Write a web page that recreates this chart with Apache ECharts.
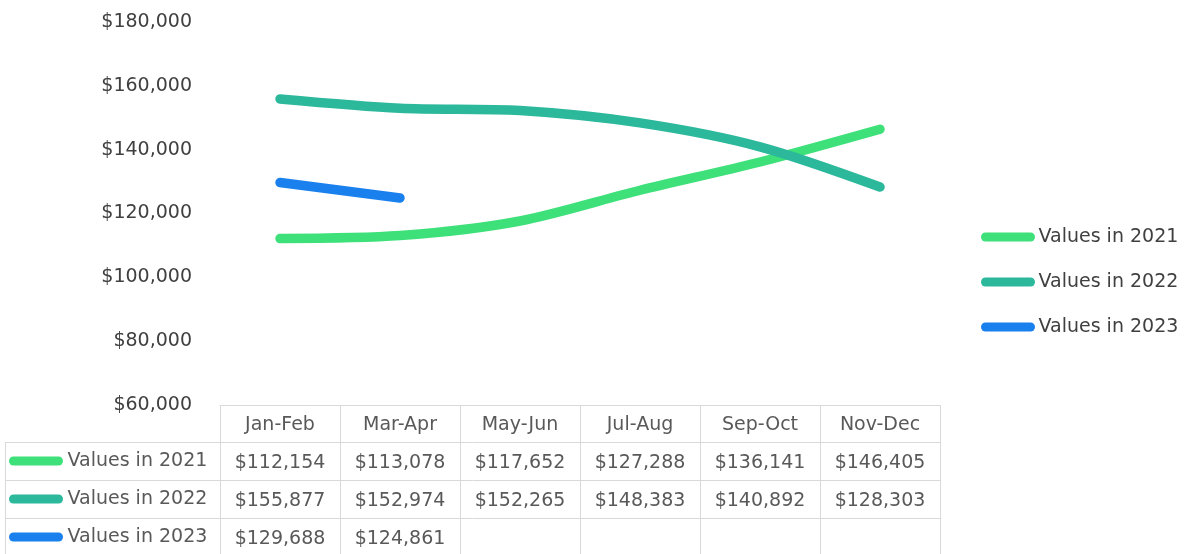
<!DOCTYPE html>
<html>
<head>
<meta charset="utf-8">
<script src="https://cdn.jsdelivr.net/npm/echarts@6/dist/echarts.min.js"></script>
<style>
  html, body { margin: 0; padding: 0; background: #fff; }
  #main { width: 1195px; height: 554px; }
</style>
</head>
<body>
<div id="main"></div>
<script>
var categories = ['Jan-Feb', 'Mar-Apr', 'May-Jun', 'Jul-Aug', 'Sep-Oct', 'Nov-Dec'];
var seriesNames = ['Values in 2021', 'Values in 2022', 'Values in 2023'];
var values2021 = [112154, 113078, 117652, 127288, 136141, 146405];
var values2022 = [155877, 152974, 152265, 148383, 140892, 128303];
var values2023 = [129688, 124861, null, null, null, null];
var yTicks = [60000, 80000, 100000, 120000, 140000, 160000, 180000];

var colors = ['#3ee07a', '#2bb89b', '#1a80ee'];
var font = '"DejaVu Sans", "Open Sans", sans-serif';
var fs = 19;
var gridColor = '#d9d9d9';
var rowH = 38;
var capsule = 'path://M5,0 L55,0 A5,5 0 0 1 55,10 L5,10 A5,5 0 0 1 5,0 Z';

function money(v) {
    return '$' + v.toString().replace(/\B(?=(\d{3})+(?!\d))/g, ',');
}

var myChart = echarts.init(document.getElementById('main'));

var allRows = [values2021, values2022, values2023];

// 表格行线
var tableTop = 405, tableLeft = 5, tableRight = 940;
var graphics = [];
for (var r = 1; r <= 3; r++) {
    graphics.push({
        type: 'line',
        shape: { x1: tableLeft, y1: tableTop + r * rowH - 0.5, x2: tableRight, y2: tableTop + r * rowH - 0.5 },
        style: { stroke: gridColor, lineWidth: 1 }
    });
}
graphics.push({
    type: 'line',
    shape: { x1: tableLeft + 0.5, y1: tableTop + rowH - 1, x2: tableLeft + 0.5, y2: 554 },
    style: { stroke: gridColor, lineWidth: 1 }
});

var option = {
    animation: false,
    color: colors,
    textStyle: { fontFamily: font },
    grid: { left: 220, right: 255, top: 22, bottom: 149, containLabel: false, outerBoundsMode: 'none' },
    legend: [
        {
            data: seriesNames,
            orient: 'vertical',
            left: 981,
            top: 227,
            padding: 0,
            icon: capsule,
            itemWidth: 59,
            itemHeight: 9,
            itemGap: 25,
            textStyle: { fontSize: fs, lineHeight: 20, color: '#404040', fontFamily: font, padding: [0, 0, 0, -4] }
        },
        {
            data: seriesNames,
            orient: 'vertical',
            left: 9,
            top: 451,
            padding: 0,
            icon: capsule,
            itemWidth: 61,
            itemHeight: 9,
            itemGap: 18,
            textStyle: { fontSize: fs, lineHeight: 20, color: '#595959', fontFamily: font, padding: [0, 0, 0, -4] }
        }
    ],
    xAxis: {
        type: 'category',
        data: categories,
        boundaryGap: true,
        axisLine: { show: true, lineStyle: { color: gridColor, width: 1 } },
        axisTick: { show: true, interval: 0, length: 150, lineStyle: { color: gridColor } },
        axisLabel: {
            interval: 0,
            margin: 1,
            color: '#595959',
            fontSize: fs,
            lineHeight: rowH,
            fontFamily: font,
            formatter: function (val, idx) {
                var lines = [val];
                for (var k = 0; k < allRows.length; k++) {
                    var v = allRows[k][idx];
                    lines.push(v == null ? ' ' : money(v));
                }
                return lines.join('\n');
            }
        }
    },
    yAxis: {
        type: 'value',
        min: yTicks[0],
        max: yTicks[yTicks.length - 1],
        interval: 20000,
        axisLine: { show: false },
        axisTick: { show: false },
        splitLine: { show: false },
        axisLabel: {
            margin: 28,
            fontSize: fs,
            color: '#404040',
            fontFamily: font,
            formatter: money
        }
    },
    series: [
        { name: seriesNames[0], type: 'line', data: values2021 },
        { name: seriesNames[1], type: 'line', data: values2022 },
        { name: seriesNames[2], type: 'line', data: values2023 }
    ].map(function (s) {
        s.smooth = 0.3;
        s.symbol = 'none';
        s.lineStyle = { width: 9.5, cap: 'round', join: 'round' };
        return s;
    }),
    graphic: graphics
};
myChart.setOption(option);
</script>
</body>
</html>
